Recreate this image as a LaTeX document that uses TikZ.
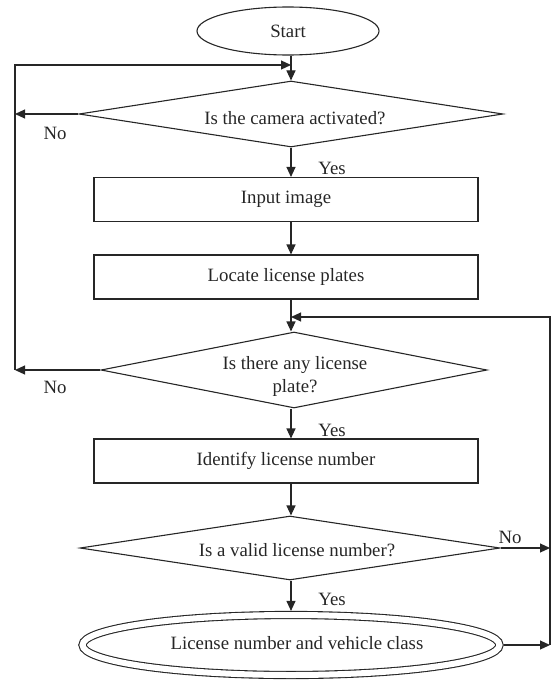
\documentclass[tikz,border=0pt]{standalone}
\usepackage{fontspec}
\setmainfont{Liberation Serif}
\usetikzlibrary{shapes.geometric,arrows.meta}
\begin{document}
\begin{tikzpicture}[x=1pt,y=-1pt,
  color=black!85,
  every node/.style={font=\fontsize{18.8}{23}\selectfont},
  arr/.style={draw, line width=1.1pt, -{Triangle[length=10pt,width=9pt]}},
  box/.style={rectangle, draw, line width=1.1pt, minimum width=384pt, minimum height=44pt, inner sep=0pt},
  dia/.style={diamond, draw, line width=1.1pt, inner sep=0pt},
  term/.style={ellipse, draw, line width=1.1pt, inner sep=0pt},
  lbl/.style={inner sep=0pt, font=\fontsize{18.8}{23}\selectfont}
]
\useasboundingbox (0,0) rectangle (551,682);

\coordinate (mx) at (291,0);
\coordinate (lx) at (15,0);
\coordinate (rx) at (550,0);
\coordinate (top1) at (291,65);
\coordinate (top2) at (291,317);

\node[term, minimum width=182pt, minimum height=48pt] (start) at (288,31) {Start};
\node[dia, minimum width=424pt, minimum height=66pt,
  label={[lbl, xshift=4pt, yshift=-4pt]center:Is the camera activated?}] (d1) at (291,114) {};
\node[box] (b1) at (286,199.5) {Input image};
\node[box] (b2) at (286,277) {Locate license plates};
\node[dia, minimum width=386pt, minimum height=76pt,
  label={[lbl, align=center, xshift=1pt, yshift=-6pt]center:{Is there any license\\plate?}}] (d2) at (294,370) {};
\node[box] (b3) at (286,461) {Identify license number};
\node[dia, minimum width=420pt, minimum height=64pt,
  label={[lbl, xshift=7pt, yshift=-2pt]center:Is a valid license number?}] (d3) at (290,548) {};
\node[term, double, double distance=6pt, minimum width=417pt, minimum height=60pt, outer sep=4.1pt,
  label={[lbl, xshift=6pt, yshift=2pt]center:License number and vehicle class}] (ell) at (291,645) {};

% main flow
\draw[arr] (start.south -| mx) -- (d1.north -| mx);
\draw[arr] (d1.south -| mx) -- (b1.north -| mx);
\draw[arr] (b1.south -| mx) -- (b2.north -| mx);
\draw[arr] (b2.south -| mx) -- (d2.north -| mx);
\draw[arr] (d2.south -| mx) -- (b3.north -| mx);
\draw[arr] (b3.south -| mx) -- (d3.north -| mx);
\draw[arr] (d3.south -| mx) -- (ell.north -| mx);

% left loop
\draw[arr] (d1.west) -- (d1.west -| lx);
\draw[arr] (d2.west) -- (d2.west -| lx);
\draw[arr] (d2.west -| lx) |- (top1);

% right loop
\draw[arr] (d3.east) -- (d3.east -| rx);
\draw[arr] (ell.east) -- (ell.east -| rx);
\draw[arr] (ell.east -| rx) |- (top2);

% labels
\node[lbl] (no1) at (55,133) {No};
\node[lbl] (no2) at (55,387) {No};
\node[lbl] (no3) at (510,537) {No};
\node[lbl] (yes1) at (332,168) {Yes};
\node[lbl] (yes2) at (332,430) {Yes};
\node[lbl] (yes3) at (332,599) {Yes};
\end{tikzpicture}
\end{document}
